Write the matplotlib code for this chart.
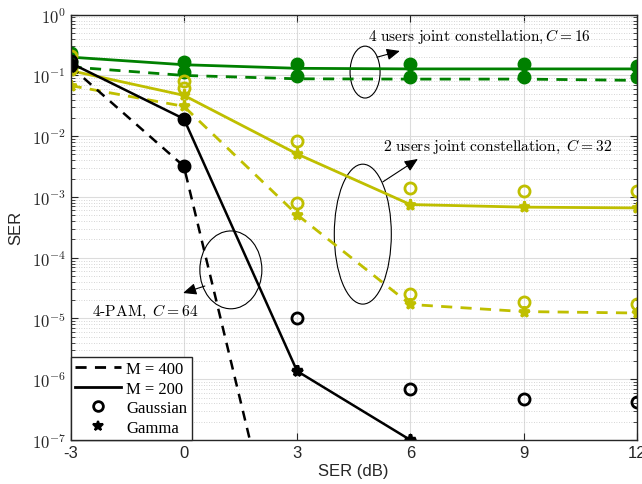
import numpy as np
import matplotlib
matplotlib.use("Agg")
import matplotlib.pyplot as plt
from matplotlib.patches import Ellipse
from matplotlib.lines import Line2D

plt.rcParams['mathtext.fontset'] = 'cm'
plt.rcParams['font.family'] = ['Liberation Sans', 'DejaVu Sans']

snr = [-3, 0, 3, 6, 9, 12]

# 4 users joint constellation, C = 16 (green)
g200_line = [0.20, 0.15, 0.131, 0.128, 0.128, 0.128]
g400_line = [0.138, 0.10, 0.088, 0.087, 0.087, 0.083]
g200_pts = [0.23, 0.169, 0.155, 0.155, 0.155, 0.145]
g400_pts = [0.165, 0.113, 0.099, 0.096, 0.096, 0.096]

# 2 users joint constellation, C = 32 (yellow)
y200_gamma = [0.12, 0.047, 0.0051, 0.00075, 0.00068, 0.00066]
y200_gauss = [0.21, 0.082, 0.0083, 0.0014, 0.00127, 0.00125]
y400_gamma = [0.068, 0.031, 0.00051, 1.7e-5, 1.3e-5, 1.23e-5]
y400_gauss = [0.13, 0.062, 0.00079, 2.5e-5, 1.86e-5, 1.74e-5]

# 4-PAM, C = 64 (black)
b200_gamma = [0.16, 0.0193, 1.36e-6, 1.0e-7, np.nan, np.nan]
b200_gauss = [0.17, 0.0193, 1.02e-5, 7.0e-7, 4.7e-7, 4.2e-7]
b400_gamma = [0.14, 0.0032, 6e-11, np.nan, np.nan, np.nan]
b400_gauss = [0.15, 0.0032, np.nan, np.nan, np.nan, np.nan]

xticks = [-3, 0, 3, 6, 9, 12]
yexp = [0, -1, -2, -3, -4, -5, -6, -7]

GREEN = '#008000'
YEL = '#BFBF00'
BLK = 'black'

fig = plt.figure(figsize=(6.42, 4.85), dpi=100)
ax = fig.add_axes([0.110, 0.0907, 0.882, 0.877])
ax.set_yscale('log')

lw = 2.0
# lines
ax.plot(snr, g200_line, '-', color=GREEN, lw=lw)
ax.plot(snr, g400_line, '--', color=GREEN, lw=lw, dashes=(4, 3))
ax.plot(snr, y200_gamma, '-', color=YEL, lw=lw)
ax.plot(snr, y400_gamma, '--', color=YEL, lw=lw, dashes=(4, 3))
ax.plot(snr, b200_gamma, '-', color=BLK, lw=1.8)
ax.plot(snr, b400_gamma, '--', color=BLK, lw=1.8, dashes=(4, 3))

# markers
ax.plot(snr, g200_pts, 'o', color=GREEN, ms=9, mfc=GREEN)
ax.plot(snr, g400_pts, 'o', color=GREEN, ms=9, mfc=GREEN)
for vals in (y200_gauss, y400_gauss):
    ax.plot(snr, vals, 'o', mfc='none', mec=YEL, mew=2, ms=8)
for vals in (y200_gamma, y400_gamma):
    ax.plot(snr, vals, '*', color=YEL, mew=2, ms=8)
for vals in (b200_gauss, b400_gauss):
    ax.plot(snr, vals, 'o', mfc='none', mec=BLK, mew=2, ms=8)
for vals in (b200_gamma, b400_gamma):
    ax.plot(snr, vals, '*', color=BLK, mew=2.5, ms=8)
# overlapping Gaussian/Gamma points appear as filled dots
for g, q in ((b200_gauss, b200_gamma), (b400_gauss, b400_gamma)):
    same = [v if (np.isfinite(v) and np.isfinite(w) and abs(v - w) / v < 0.05) else np.nan
            for v, w in zip(g, q)]
    ax.plot(snr, same, 'o', color=BLK, ms=8)

ax.set_xlim(-3, 12)
ax.set_ylim(1e-7, 1)
ax.set_xticks(xticks)
ax.set_xticklabels([str(t) for t in xticks])
ax.set_yticks([10.0**e for e in yexp])
ax.set_yticklabels([r'$\mathsf{10^{%d}}$' % e for e in yexp])
ax.tick_params(axis='both', which='both', direction='in', top=True, right=True,
               labelsize=12, colors='#262626')
ax.tick_params(axis='x', which='minor', top=False, bottom=False)
ax.tick_params(which='major', length=5)
ax.tick_params(which='minor', length=3)
ax.grid(True, which='major', color='#dcdcdc', lw=0.8)
ax.grid(True, which='minor', axis='y', color='#c8c8c8', lw=0.6, ls=(0, (1, 2)))
ax.set_axisbelow(True)
for s in ax.spines.values():
    s.set_color('#262626')
    s.set_linewidth(1.0)

ax.set_xlabel('SER (dB)', fontsize=12, color='#262626', labelpad=2)
ax.set_ylabel('SER', fontsize=12, color='#262626', labelpad=6)

# annotations
T = ax.transAxes
for (cx, cy, w, h) in [(0.520, 0.865, 0.053, 0.122),
                       (0.516, 0.484, 0.1007, 0.329),
                       (0.283, 0.400, 0.1095, 0.183)]:
    ax.add_patch(Ellipse((cx, cy), w, h, transform=T, fill=False, ec='black', lw=0.8))

arrows = [((0.541, 0.900), (0.5815, 0.9147)),
          ((0.5515, 0.607), (0.6133, 0.6607)),
          ((0.237, 0.362), (0.1986, 0.3456))]
for (p0, p1) in arrows:
    ax.annotate('', xy=p1, xytext=p0, xycoords=T, textcoords=T,
                arrowprops=dict(arrowstyle='-|>,head_length=0.8,head_width=0.35',
                                color='black', lw=0.8, shrinkA=0, shrinkB=0))

ax.text(0.525, 0.95, r'$\mathrm{4\ users\ joint\ constellation,}C = 16$', transform=T,
        fontsize=11.1, va='center', ha='left')
ax.text(0.5515, 0.691, r'$\mathrm{2\ users\ joint\ constellation,}\ C = 32$', transform=T,
        fontsize=11.2, va='center', ha='left')
ax.text(0.0376, 0.303, r'$\mathrm{4\text{-}PAM,}\ C = 64$', transform=T,
        fontsize=11.2, va='center', ha='left')

handles = [Line2D([], [], color='black', ls='--', lw=2, dashes=(4, 3)),
           Line2D([], [], color='black', ls='-', lw=2),
           Line2D([], [], color='black', ls='none', marker='o', mfc='none', mew=2, ms=7),
           Line2D([], [], color='black', ls='none', marker='*', mew=1.5, ms=7)]
labels = ['M = 400', 'M = 200', 'Gaussian', 'Gamma']
leg = ax.legend(handles, labels, loc='lower left', bbox_to_anchor=(0, 0),
                borderaxespad=0, prop={'family': 'Liberation Serif', 'size': 12},
                frameon=True, fancybox=False, edgecolor='#262626', framealpha=1,
                handlelength=2.8, handletextpad=0.3, labelspacing=0.22, borderpad=0.25)
leg.get_frame().set_linewidth(1.0)

fig.savefig('out.png', dpi=100)
